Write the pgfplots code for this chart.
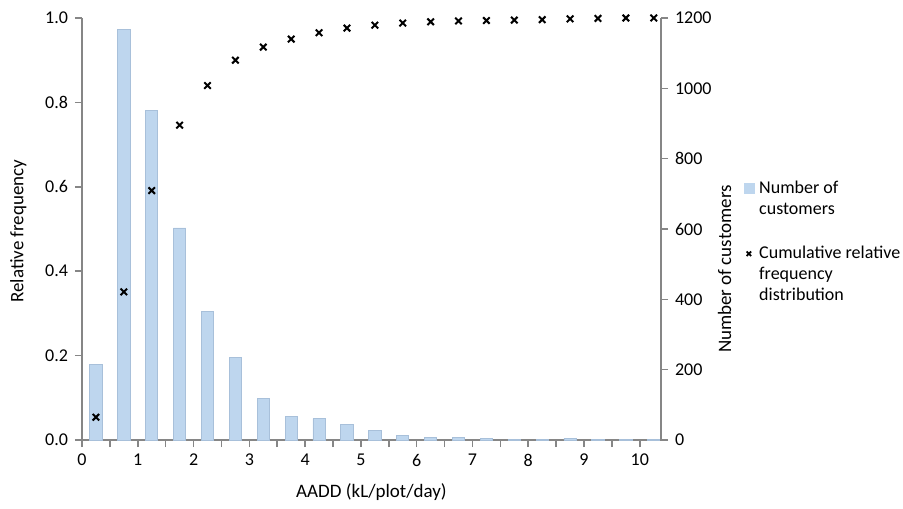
\documentclass[border=0pt]{standalone}
\usepackage{pgfplots}
\pgfplotsset{compat=1.18}
\usepackage{fontspec}
\setmainfont{Carlito}
\definecolor{barfill}{RGB}{190,214,238}
\definecolor{baredge}{RGB}{168,192,218}
\definecolor{axgray}{RGB}{134,134,134}
\begin{document}
\begin{tikzpicture}
\useasboundingbox (-41pt,-34pt) rectangle (410.5pt,220pt);
\pgfplotsset{
  base/.style={
    scale only axis, width=289.5pt, height=211pt,
    at={(0,0)}, anchor=south west,
    xmin=0, xmax=10.38,
    clip=false,
    axis line style={axgray, line width=0.8pt},
    tick style={axgray, line width=0.8pt},
    tick align=outside,
    major tick length=3.5pt,
    minor tick length=3.5pt,
    /pgf/number format/assume math mode=true,
    /pgf/number format/1000 sep={},
    tick label style={font=\fontsize{9}{10}\selectfont, text=black},
    label style={font=\fontsize{9.5}{11}\selectfont, text=black},
  }
}
\begin{axis}[base,
  axis x line*=bottom, axis y line*=right,
  ymin=0, ymax=1200, ytick={0,200,400,600,800,1000,1200},
  xtick={0,1,...,10}, minor xtick={0.5,1.5,...,9.5},
  ylabel={Number of customers},
  ylabel style={at={(axis description cs:1.11,0.405)}, anchor=center},
  xlabel={AADD (kL/plot/day)},
  xlabel style={at={(axis description cs:0.5,-0.123)}, anchor=center},
]
\addplot[ybar, bar width=0.22, fill=barfill, draw=baredge, line width=0.4pt] coordinates {
(0.25,216) (0.75,1168) (1.25,936) (1.75,603) (2.25,365) (2.75,235) (3.25,119)
(3.75,68) (4.25,61) (4.75,44) (5.25,26) (5.75,13) (6.25,8) (6.75,8) (7.25,5)
(7.75,2) (8.25,2) (8.75,5) (9.25,2) (9.75,1) (10.25,1)};
\end{axis}
\begin{axis}[base,
  axis x line=none, axis y line*=left,
  ymin=0, ymax=1, ytick={0,0.2,0.4,0.6,0.8,1},
  yticklabel style={/pgf/number format/.cd, fixed, fixed zerofill, precision=1},
  ylabel={Relative frequency},
  ylabel style={at={(axis description cs:-0.11,0.495)}, anchor=center},
  legend cell align=left,
  legend style={at={(1.1316,0.629)}, anchor=north west, draw=none, fill=none,
    font=\fontsize{9}{10.5}\selectfont, nodes={align=left, inner sep=1pt},
    row sep=12.5pt, column sep=1.5pt},
]
\addlegendimage{legend image code/.code={\draw[fill=barfill,draw=barfill,line width=0.3pt] (0.5pt,3pt) rectangle (5.5pt,8pt);}}
\addlegendentry{Number of\\customers}
\addplot[only marks, mark=x, mark size=2.3pt, line width=1pt, black,
  legend image code/.code={\draw[mark=x, mark size=1.6pt, line width=0.9pt, black] plot coordinates {(3pt,10.75pt)};}] coordinates {
(0.25,0.054) (0.75,0.351) (1.25,0.591) (1.75,0.746) (2.25,0.840) (2.75,0.900)
(3.25,0.931) (3.75,0.950) (4.25,0.965) (4.75,0.976) (5.25,0.983) (5.75,0.988)
(6.25,0.991) (6.75,0.993) (7.25,0.994) (7.75,0.995) (8.25,0.996) (8.75,0.998)
(9.25,0.999) (9.75,1.0) (10.25,1.0)};
\addlegendentry{Cumulative relative\\frequency\\distribution}
\end{axis}
\end{tikzpicture}
\end{document}
